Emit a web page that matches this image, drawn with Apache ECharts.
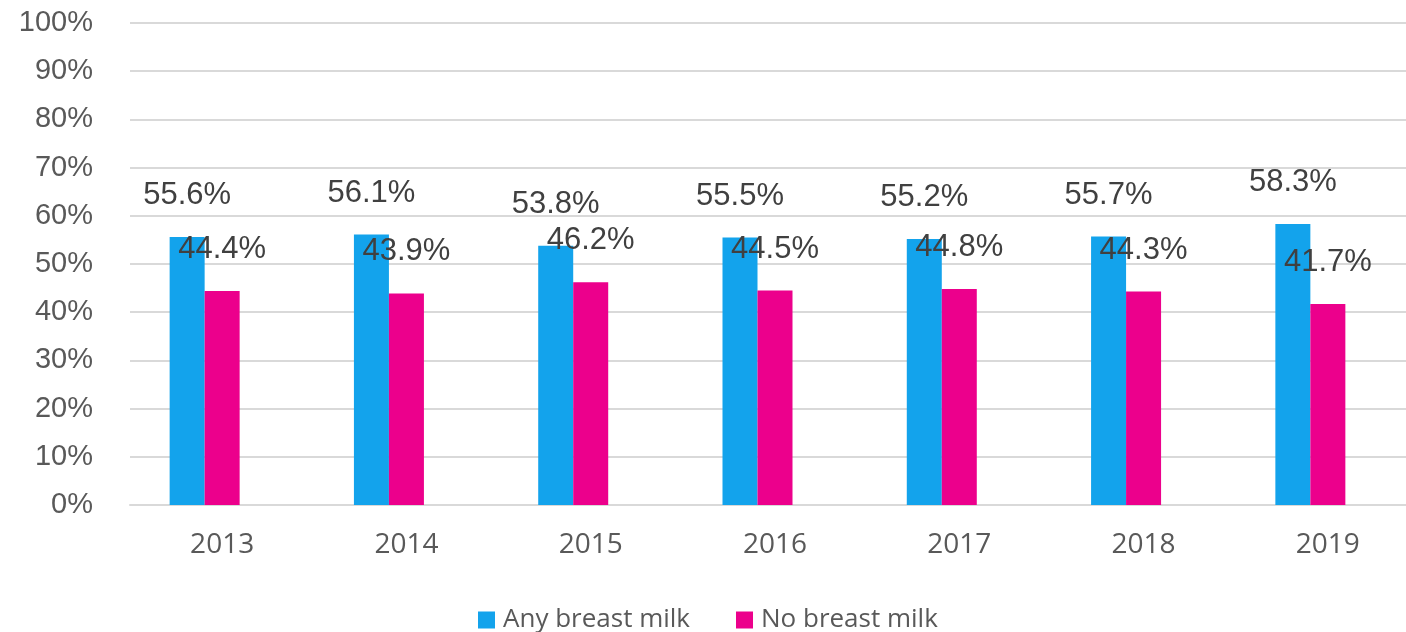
<!DOCTYPE html>
<html>
<head>
<meta charset="utf-8">
<script src="https://cdn.jsdelivr.net/npm/echarts@6/dist/echarts.min.js"></script>
<style>html,body{margin:0;padding:0;background:#fff}#c{width:1406px;height:632px}</style>
</head>
<body>
<div id="c"></div>
<script>
const categories = ['2013','2014','2015','2016','2017','2018','2019'];
const anyBreastMilk = [55.6, 56.1, 53.8, 55.5, 55.2, 55.7, 58.3];
const noBreastMilk = [44.4, 43.9, 46.2, 44.5, 44.8, 44.3, 41.7];
const seriesNames = ['Any breast milk', 'No breast milk'];
const yTicks = {min: 0, max: 100, interval: 10};

const chart = echarts.init(document.getElementById('c'), null, {renderer: 'canvas'});
const labelStyle = {
  show: true, position: 'top', distance: 26,
  fontFamily: 'Liberation Sans, Arial, sans-serif', fontSize: 31, color: '#404040',
  formatter: p => p.value.toFixed(1) + '%'
};
chart.setOption({
  animation: false,
  grid: {left: 130, right: -14, top: 23, bottom: 127, containLabel: false, outerBoundsMode: 'none'},
  legend: {
    data: seriesNames, left: 473, top: 602, itemWidth: 17, itemHeight: 17, itemGap: 46,
    icon: 'rect',
    textStyle: {fontFamily: 'Open Sans, sans-serif', fontSize: 26, color: '#595959', padding: [0,0,0,3]}
  },
  xAxis: {
    type: 'category', data: categories, boundaryGap: true,
    axisLine: {show: true, lineStyle: {color: '#d9d9d9', width: 2}},
    axisTick: {show: false},
    axisLabel: {fontFamily: 'Open Sans, sans-serif', fontSize: 28, color: '#595959', margin: 26}
  },
  yAxis: {
    type: 'value', min: yTicks.min, max: yTicks.max, interval: yTicks.interval,
    axisLine: {show: false}, axisTick: {show: false},
    splitLine: {lineStyle: {color: '#d9d9d9', width: 2}},
    axisLabel: {formatter: '{value}%', fontFamily: 'Liberation Sans, Arial, sans-serif', fontSize: 29, color: '#595959', margin: 37}
  },
  series: [
    {name: seriesNames[0], type: 'bar', data: anyBreastMilk, barWidth: 35, barGap: '0%',
     itemStyle: {color: '#13A3EC'}, label: labelStyle},
    {name: seriesNames[1], type: 'bar', data: noBreastMilk, barWidth: 35, barGap: '0%',
     itemStyle: {color: '#EC008C'}, label: labelStyle},
    {name: 'spacer', type: 'bar', data: categories.map(() => null), barWidth: 35, barGap: '0%', silent: true}
  ]
});
</script>
</body>
</html>
